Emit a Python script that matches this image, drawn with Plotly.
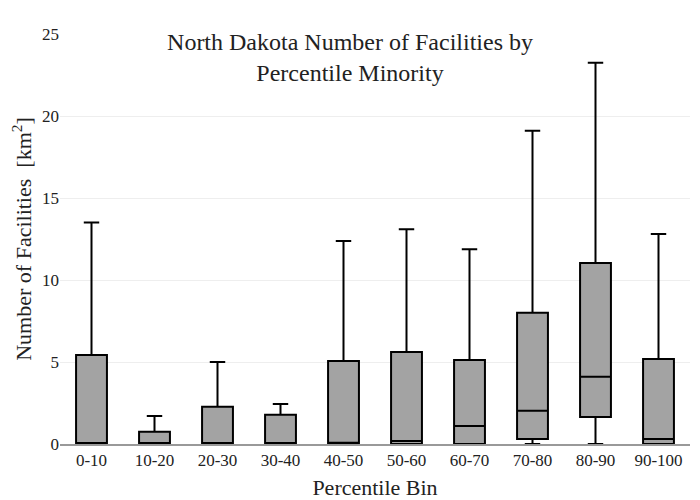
import plotly.graph_objects as go

categories = ["0-10", "10-20", "20-30", "30-40", "40-50", "50-60", "60-70", "70-80", "80-90", "90-100"]
lower_fence = [0, 0, 0, 0, 0, 0, 0, 0, 0, 0]
q1 = [0, 0, 0, 0, 0, 0, 0, 0.3, 1.65, 0]
median = [0, 0, 0, 0, 0.08, 0.18, 1.1, 2.02, 4.1, 0.3]
q3 = [5.43, 0.75, 2.27, 1.78, 5.06, 5.61, 5.12, 8.0, 11.04, 5.18]
upper_fence = [13.5, 1.71, 5.0, 2.44, 12.38, 13.1, 11.88, 19.1, 23.25, 12.8]

FONT = "Liberation Serif"

fig = go.Figure()
fig.add_trace(go.Box(
    x=categories,
    q1=q1,
    median=median,
    q3=q3,
    lowerfence=lower_fence,
    upperfence=upper_fence,
    fillcolor="#a3a3a3",
    line=dict(color="black", width=2),
    whiskerwidth=0.5,
    boxpoints=False,
    showlegend=False,
))

fig.update_layout(
    width=700, height=500,
    template="plotly_white",
    font=dict(family=FONT, color="#222", size=17),
    title=dict(text="North Dakota Number of Facilities by<br>Percentile Minority",
               x=0.4886, xanchor="center", y=0.916, yanchor="top", yref="container",
               font=dict(family=FONT, size=24, color="#222")),
    margin=dict(l=52, r=18, t=26, b=64),
    xaxis=dict(title=dict(text="Percentile Bin", font=dict(family=FONT, size=22), standoff=10),
               showline=True, linecolor="#999", linewidth=2, showgrid=False,
               tickfont=dict(family=FONT, size=17), automargin=False),
    yaxis=dict(title=dict(text="Number of Facilities  [km<sup>2</sup>]", font=dict(family=FONT, size=22), standoff=14),
               range=[0, 25], dtick=5, gridcolor="#eeeeee", zeroline=False,
               tickfont=dict(family=FONT, size=17), automargin=False),
)

fig.write_html("out.html")
